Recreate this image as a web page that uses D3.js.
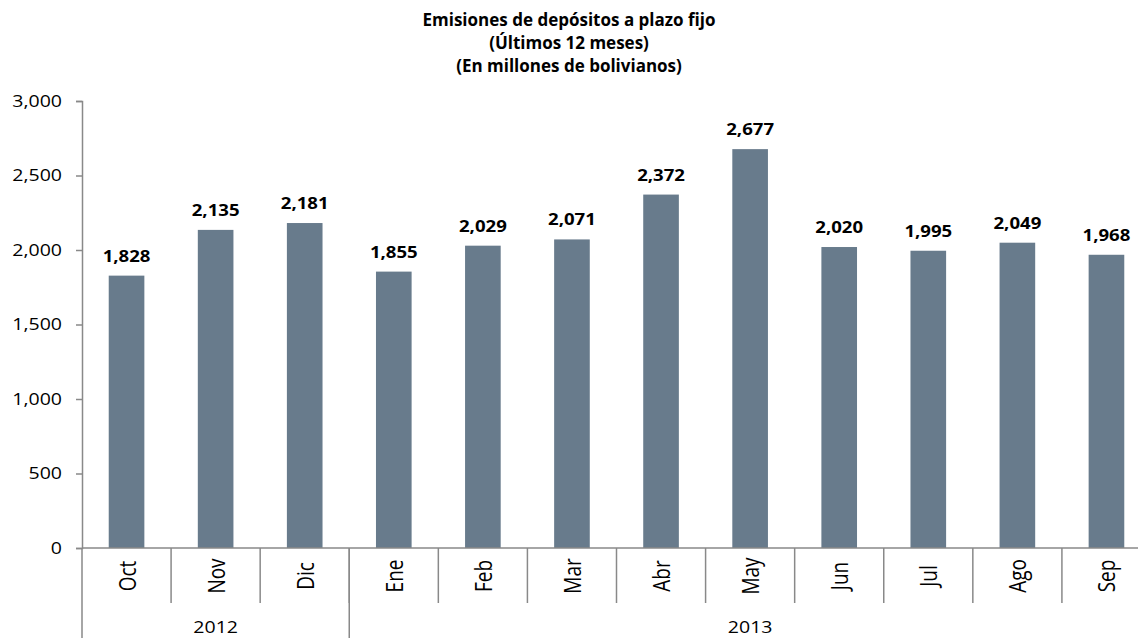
<!DOCTYPE html>
<html>
<head>
<meta charset="utf-8">
<script src="https://cdn.jsdelivr.net/npm/d3@7"></script>
<style>
  body { margin: 0; background: #fff; }
  text { font-family: "Open Sans", sans-serif; fill: #000; }
</style>
</head>
<body>
<div id="chart"></div>
<script>
const months = ["Oct", "Nov", "Dic", "Ene", "Feb", "Mar", "Abr", "May", "Jun", "Jul", "Ago", "Sep"];
const values = [1828, 2135, 2181, 1855, 2029, 2071, 2372, 2677, 2020, 1995, 2049, 1968];
const years = [
  { year: "2012", first: "Oct", last: "Dic" },
  { year: "2013", first: "Ene", last: "Sep" }
];
const yTicks = [0, 500, 1000, 1500, 2000, 2500, 3000];
const titleLines = ["Emisiones de depósitos a plazo fijo", "(Últimos 12 meses)", "(En millones de bolivianos)"];

const width = 1138;
const height = 638;
const axisColor = "#898989";
// the original picture looks stretched sideways, so text gets widened a bit
const k = 1.2;
const kTick = 1.15;

const svg = d3.select("#chart")
  .append("svg")
    .attr("width", width)
    .attr("height", height);

// the last band runs past the right edge, like the original picture
const x = d3.scaleBand()
  .domain(months)
  .range([82, 1151])
  .paddingInner(0.6)
  .paddingOuter(0.3);

const y = d3.scaleLinear()
  .domain([0, 3000])
  .range([548, 101]);

svg.append("g")
  .selectAll("text")
  .data(titleLines)
  .join("text")
    .attr("x", 569)
    .attr("y", (d, i) => 26 + i * 23)
    .attr("text-anchor", "middle")
    .attr("font-weight", "bold")
    .attr("font-size", 17)
    .text(d => d);

// y axis
const yAxis = svg.append("g")
  .attr("transform", "translate(82,0)")
  .call(d3.axisLeft(y).tickValues(yTicks).tickSize(6).tickPadding(8).tickFormat(d3.format(",")));
yAxis.select(".domain").attr("stroke", axisColor).attr("stroke-width", 1.5);
yAxis.selectAll(".tick line").attr("stroke", axisColor).attr("stroke-width", 1.5);
yAxis.selectAll(".tick text")
  .attr("x", -20 / kTick)
  .attr("transform", `scale(${kTick},1)`)
  .attr("font-size", 17)
  .attr("fill", "#000");

// bars
svg.append("g")
  .selectAll("rect")
  .data(months)
  .join("rect")
    .attr("x", d => x(d))
    .attr("y", (d, i) => y(values[i]))
    .attr("width", x.bandwidth())
    .attr("height", (d, i) => y(0) - y(values[i]))
    .attr("fill", "#687b8c");

svg.append("g")
  .selectAll("text")
  .data(months)
  .join("text")
    .attr("transform", (d, i) => `translate(${x(d) + x.bandwidth() / 2},${y(values[i]) - 14}) scale(${k},1)`)
    .attr("text-anchor", "middle")
    .attr("font-weight", "bold")
    .attr("font-size", 15.5)
    .text((d, i) => d3.format(",")(values[i]));

// x axis with month and year levels
const step = x.step();
const edge = d => x(d) - x.paddingInner() * step / 2;

svg.append("line")
  .attr("x1", 82).attr("x2", width)
  .attr("y1", y(0)).attr("y2", y(0))
  .attr("stroke", axisColor).attr("stroke-width", 1.5);

svg.append("g")
  .selectAll("line")
  .data(months.slice(1))
  .join("line")
    .attr("x1", d => edge(d)).attr("x2", d => edge(d))
    .attr("y1", y(0)).attr("y2", 603)
    .attr("stroke", axisColor).attr("stroke-width", 1.5);

svg.append("g")
  .selectAll("line")
  .data(years)
  .join("line")
    .attr("x1", d => edge(d.first)).attr("x2", d => edge(d.first))
    .attr("y1", y(0)).attr("y2", height)
    .attr("stroke", axisColor).attr("stroke-width", 1.5);

svg.append("g")
  .selectAll("text")
  .data(months)
  .join("text")
    .attr("transform", d => `translate(${x(d) + x.bandwidth() / 2 + 1},576) scale(${k},1) rotate(-90)`)
    .attr("text-anchor", "middle")
    .attr("dy", "0.35em")
    .attr("font-size", 19)
    .text(d => d);

svg.append("g")
  .selectAll("text")
  .data(years)
  .join("text")
    .attr("transform", d => `translate(${(edge(d.first) + x(d.last) + x.bandwidth() + x.paddingInner() * step / 2) / 2},633) scale(${kTick},1)`)
    .attr("text-anchor", "middle")
    .attr("font-size", 17)
    .text(d => d.year);
</script>
</body>
</html>
